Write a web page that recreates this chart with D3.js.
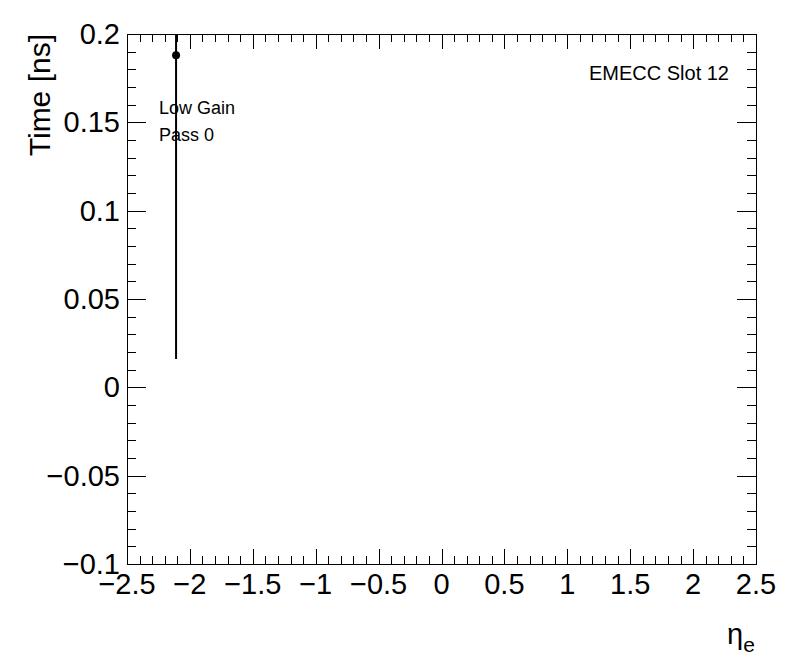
<!DOCTYPE html>
<html>
<head>
<meta charset="utf-8">
<script src="https://cdn.jsdelivr.net/npm/d3@7"></script>
<style>
  body { margin: 0; background: #fff; }
  text { font-family: "Liberation Sans", Arial, sans-serif; fill: #000; }
</style>
</head>
<body>
<div class="chart"></div>
<script>
// data
const etaValues = [-2.11];
const timeValues = [0.188];
const timeErrors = [0.172];
const xTicks = [-2.5, -2, -1.5, -1, -0.5, 0, 0.5, 1, 1.5, 2, 2.5];
const yTicks = [-0.1, -0.05, 0, 0.05, 0.1, 0.15, 0.2];

const data = etaValues.map((d, i) => ({eta: d, t: timeValues[i], err: timeErrors[i]}));

const width = 796, height = 672;
const margin = ({top: 34, right: 40, bottom: 108, left: 127});

const svg = d3.select('.chart')
    .append('svg')
    .attr('width', width)
    .attr('height', height);

const xScale = d3.scaleLinear().domain([-2.5, 2.5]).range([margin.left, width - margin.right]);
const yScale = d3.scaleLinear().domain([-0.1, 0.2]).range([height - margin.bottom, margin.top]);

const fmt = v => {
    let s = d3.format('')(+v.toFixed(3));
    return s.replace('-', '\u2212');
};

// clip for the data
svg.append('clipPath').attr('id', 'frame')
    .append('rect')
    .attr('x', margin.left).attr('y', margin.top)
    .attr('width', xScale(2.5) - xScale(-2.5))
    .attr('height', yScale(-0.1) - yScale(0.2));

// minor ticks
const xMinor = d3.range(-2.5, 2.5001, 0.1);
const yMinor = d3.range(-0.1, 0.2001, 0.01);

const ticks = svg.append('g').attr('stroke', '#000').attr('stroke-width', 1);
xMinor.forEach((v, i) => {
    const len = i % 5 === 0 ? 15 : 8;
    const x = Math.round(xScale(v)) + 0.5;
    ticks.append('line').attr('x1', x).attr('x2', x)
        .attr('y1', yScale(-0.1)).attr('y2', yScale(-0.1) - len);
    ticks.append('line').attr('x1', x).attr('x2', x)
        .attr('y1', yScale(0.2)).attr('y2', yScale(0.2) + len);
});
yMinor.forEach((v, i) => {
    const len = i % 5 === 0 ? 19 : 9;
    const y = Math.round(yScale(v)) + 0.5;
    ticks.append('line').attr('y1', y).attr('y2', y)
        .attr('x1', xScale(-2.5)).attr('x2', xScale(-2.5) + len);
    ticks.append('line').attr('y1', y).attr('y2', y)
        .attr('x1', xScale(2.5)).attr('x2', xScale(2.5) - len);
});

// frame
svg.append('rect')
    .attr('x', margin.left + 0.5).attr('y', margin.top + 0.5)
    .attr('width', xScale(2.5) - xScale(-2.5))
    .attr('height', yScale(-0.1) - yScale(0.2))
    .attr('fill', 'none').attr('stroke', '#000').attr('stroke-width', 1);

// tick labels
svg.append('g').selectAll('text')
    .data(xTicks)
    .enter()
    .append('text')
        .attr('x', d => xScale(d))
        .attr('y', 594)
        .attr('text-anchor', 'middle')
        .style('font-size', '29px')
        .text(fmt);

svg.append('g').selectAll('text')
    .data(yTicks)
    .enter()
    .append('text')
        .attr('x', 120)
        .attr('y', d => yScale(d) + 10)
        .attr('text-anchor', 'end')
        .style('font-size', '29px')
        .text(fmt);

// axis titles
svg.append('text')
    .attr('transform', 'translate(50,34) rotate(-90)')
    .attr('text-anchor', 'end')
    .style('font-size', '30px')
    .text('Time [ns]');

const xt = svg.append('text')
    .attr('x', 727).attr('y', 644)
    .style('font-size', '29px');
xt.append('tspan').text('\u03b7');
xt.append('tspan').attr('dy', 8).style('font-size', '21px').text('e');

// error bars and points
const plot = svg.append('g').attr('clip-path', 'url(#frame)');
plot.selectAll('line.err')
    .data(data)
    .enter()
    .append('line')
        .attr('class', 'err')
        .attr('x1', d => xScale(d.eta)).attr('x2', d => xScale(d.eta))
        .attr('y1', d => yScale(d.t - d.err)).attr('y2', d => yScale(d.t + d.err))
        .attr('stroke', '#000').attr('stroke-width', 2);
plot.selectAll('circle')
    .data(data)
    .enter()
    .append('circle')
        .attr('cx', d => xScale(d.eta))
        .attr('cy', d => yScale(d.t))
        .attr('r', 4)
        .attr('fill', '#000');

// labels
svg.append('text')
    .attr('x', 729).attr('y', 80)
    .attr('text-anchor', 'end')
    .style('font-size', '20px')
    .text('EMECC Slot 12');
svg.append('text')
    .attr('x', 159).attr('y', 114)
    .style('font-size', '18px')
    .text('Low Gain');
svg.append('text')
    .attr('x', 159).attr('y', 141)
    .style('font-size', '18px')
    .text('Pass 0');
</script>
</body>
</html>
